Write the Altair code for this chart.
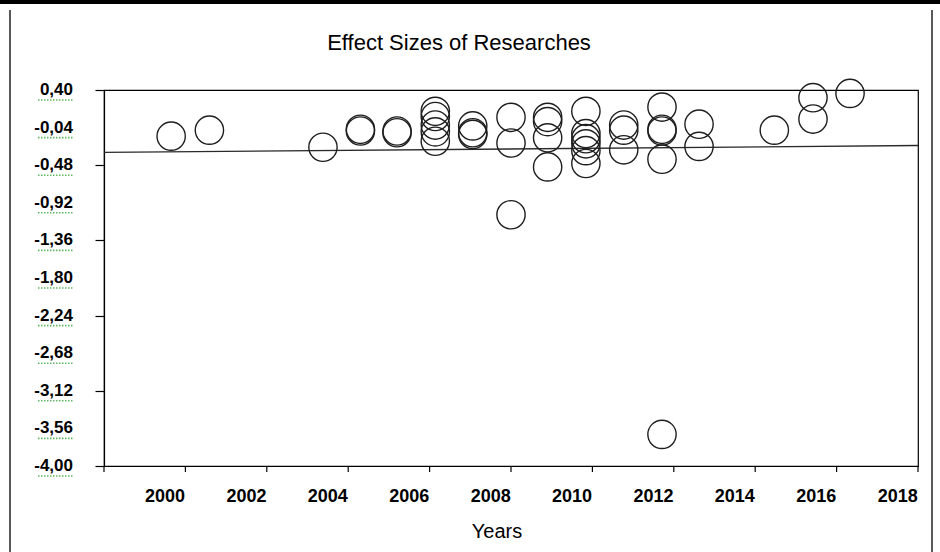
import altair as alt
import pandas as pd

FONT = "Liberation Sans"

title_text = "Effect Sizes of Researches"
x_title = "Years"

# Publication year (on the year axis) and effect size of each study
study_year = [
    2000.15, 2001.09, 2003.88,
    2004.80, 2004.80,
    2005.70, 2005.70,
    2006.64, 2006.64, 2006.64, 2006.64, 2006.64,
    2007.56, 2007.56, 2007.56,
    2008.50, 2008.50, 2008.50,
    2009.40, 2009.40, 2009.40, 2009.40,
    2010.34, 2010.34, 2010.34, 2010.34, 2010.34, 2010.34,
    2011.27, 2011.27, 2011.27,
    2012.21, 2012.21, 2012.21, 2012.21, 2012.21,
    2013.12, 2013.12,
    2014.97,
    2015.92, 2015.92,
    2016.83,
]
effect_size = [
    -0.14, -0.07, -0.27,
    -0.06, -0.08,
    -0.08, -0.10,
    0.15, 0.09, -0.01, -0.09, -0.20,
    -0.02, -0.10, -0.12,
    0.08, -0.22, -1.06,
    0.08, 0.03, -0.16, -0.50,
    0.15, -0.11, -0.17, -0.23, -0.31, -0.46,
    -0.01, -0.07, -0.30,
    0.20, -0.06, -0.08, -0.41, -3.63,
    0.00, -0.26,
    -0.07,
    0.31, 0.06,
    0.36,
]

# Fitted trend line end points
trend_year = [1998.5, 2018.5]
trend_effect = [-0.33, -0.25]

# Axis ticks and labels
y_ticks = [0.40, -0.04, -0.48, -0.92, -1.36, -1.80, -2.24, -2.68, -3.12, -3.56, -4.00]
y_labels = ["0,40", "-0,04", "-0,48", "-0,92", "-1,36", "-1,80", "-2,24",
            "-2,68", "-3,12", "-3,56", "-4,00"]
x_ticks = [1998.5, 2000.5, 2002.5, 2004.5, 2006.5, 2008.5,
           2010.5, 2012.5, 2014.5, 2016.5, 2018.5]
x_label_years = [2000, 2002, 2004, 2006, 2008, 2010, 2012, 2014, 2016, 2018]

W, H = 814, 376
PAD_L, PAD_T = 104, 90

studies = pd.DataFrame({"year": study_year, "effect": effect_size})
trend = pd.DataFrame({"year": trend_year, "effect": trend_effect})
ytick_df = pd.DataFrame({"value": y_ticks, "label": y_labels})
xtick_df = pd.DataFrame({"year": x_ticks})
xlab_df = pd.DataFrame({"year": x_label_years, "label": [str(v) for v in x_label_years]})

x_scale = alt.Scale(domain=[1998.5, 2018.5], nice=False, zero=False)
y_scale = alt.Scale(domain=[-4.0, 0.40], nice=False, zero=False)

x_axis = alt.Axis(values=x_ticks, labels=False, ticks=False, grid=False, title=None,
                  domainColor="black", domainWidth=1.2)
y_axis = alt.Axis(values=y_ticks, labels=False, grid=False, title=None,
                  tickSize=9, tickColor="black", tickWidth=1.2,
                  domainColor="black", domainWidth=1.2)

points = alt.Chart(studies).mark_point(
    shape="circle", filled=False, size=800, strokeWidth=1.4,
    color="#1e1e1e", opacity=1
).encode(
    x=alt.X("year:Q", scale=x_scale, axis=x_axis),
    y=alt.Y("effect:Q", scale=y_scale, axis=y_axis),
)

trend_line = alt.Chart(trend).mark_line(color="#2a2a2a", strokeWidth=1.4).encode(
    x=alt.X("year:Q", scale=x_scale),
    y=alt.Y("effect:Q", scale=y_scale),
)

x_tick_marks = alt.Chart(xtick_df).mark_rule(color="black", strokeWidth=1.2).encode(
    x=alt.X("year:Q", scale=x_scale),
    y=alt.value(H),
    y2=alt.value(H + 6),
)

y_tick_labels = alt.Chart(ytick_df).mark_text(
    font=FONT, fontSize=17, fontWeight="bold", align="right", baseline="middle",
    color="black"
).encode(
    y=alt.Y("value:Q", scale=y_scale),
    x=alt.value(-31),
    text="label:N",
)

# green wavy spell-check underline beneath each value label
y_label_waves = alt.Chart(ytick_df).mark_rule(
    color="#62b862", strokeWidth=1.6, strokeDash=[1.5, 1.5], yOffset=10
).encode(
    y=alt.Y("value:Q", scale=y_scale),
    x=alt.value(-31 - 35),
    x2=alt.value(-31),
)

x_tick_labels = alt.Chart(xlab_df).mark_text(
    font=FONT, fontSize=18, fontWeight="bold", align="center", baseline="middle",
    color="black"
).encode(
    x=alt.X("year:Q", scale=x_scale),
    y=alt.value(H + 31),
    text="label:N",
)

title_mark = alt.Chart(pd.DataFrame({"t": [title_text]})).mark_text(
    font=FONT, fontSize=22, align="center", baseline="middle", color="black"
).encode(x=alt.value(459 - PAD_L), y=alt.value(43 - PAD_T), text="t:N")

x_title_mark = alt.Chart(pd.DataFrame({"t": [x_title]})).mark_text(
    font=FONT, fontSize=20, align="center", baseline="middle", color="black"
).encode(x=alt.value(497 - PAD_L), y=alt.value(532 - PAD_T), text="t:N")

# Page borders around the figure
side_lines = alt.Chart(pd.DataFrame({"side": ["left", "right"], "px": [10 - PAD_L, 932 - PAD_L]})).mark_rule(
    color="black", strokeWidth=1.3
).encode(
    x=alt.X("px:Q", scale=None),
    y=alt.value(10 - PAD_T),
    y2=alt.value(552 - PAD_T),
)
top_band = alt.Chart(pd.DataFrame({"k": [0]})).mark_rect(color="black").encode(
    x=alt.value(-PAD_L), x2=alt.value(940 - PAD_L),
    y=alt.value(-PAD_T), y2=alt.value(4 - PAD_T),
)

chart = alt.layer(
    side_lines, top_band, trend_line, points, x_tick_marks,
    y_label_waves, y_tick_labels, x_tick_labels, title_mark, x_title_mark,
).properties(
    width=W, height=H,
    padding={"left": PAD_L, "top": PAD_T, "right": 940 - PAD_L - W, "bottom": 552 - PAD_T - H},
    autosize=alt.AutoSizeParams(type="none"),
    background="white",
).configure_view(
    stroke="black", strokeWidth=1.2
)

chart.save("out.html", embed_options={"renderer": "svg", "actions": False})
